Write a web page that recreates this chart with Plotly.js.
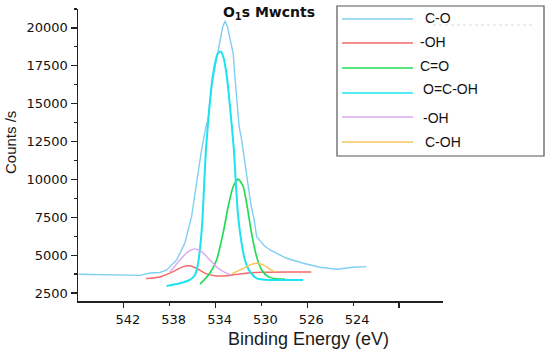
<!DOCTYPE html>
<html>
<head>
<meta charset="utf-8">
<script src="https://cdn.plot.ly/plotly-3.0.1.min.js"></script>
<style>html,body{margin:0;padding:0;background:#fff;}#chart{width:550px;height:354px;}</style>
</head>
<body>
<div id="chart"></div>
<script>
// ---- data (binding energy on the chart's nominal axis, counts/s) ----
const seriesNames = ["C-O", "-OH", "C=O", "O=C-OH", "-OH", "C-OH"];

const envX = [545.95, 544.5, 543.0, 542.0, 540.6, 539.7, 538.86, 538.25, 537.4, 536.68, 536.09, 535.66, 535.22, 534.85, 534.67, 534.55, 534.30, 533.99, 533.69, 533.38, 533.17, 532.95, 532.77, 532.55, 532.46, 532.34, 532.15, 531.94, 531.72, 531.48, 531.23, 530.93, 530.62, 530.42, 529.79, 529.26, 527.80, 526.35, 524.90, 523.44, 521.99, 520.85];
const envY = [3740, 3720, 3700, 3680, 3660, 3820, 3850, 4020, 4680, 5790, 7540, 9750, 11950, 13450, 13900, 14780, 16320, 17640, 18960, 20060, 20450, 20060, 19400, 18740, 18300, 16980, 15220, 13460, 12580, 11260, 9940, 8400, 7300, 6220, 5650, 5340, 4790, 4460, 4200, 4070, 4200, 4240];

const ohX = [540.07, 538.86, 537.70, 536.83, 536.24, 535.66, 534.78, 533.91, 533.04, 531.88, 530.13, 527.23, 525.65];
const ohY = [3450, 3560, 3910, 4240, 4300, 4130, 3760, 3620, 3640, 3760, 3870, 3890, 3890];

const coX = [535.35, 534.50, 533.91, 533.34, 532.90, 532.46, 532.03, 531.59, 531.24, 530.86, 530.42, 529.98, 529.41, 528.68, 527.95];
const coY = [3080, 3800, 4680, 6450, 8200, 9530, 10020, 9530, 8200, 6450, 4900, 4020, 3580, 3430, 3410];

const ocohX = [538.27, 537.11, 536.24, 535.80, 535.52, 535.31, 535.13, 534.99, 534.84, 534.61, 534.33, 534.02, 533.81, 533.55, 533.32, 533.01, 532.71, 532.40, 532.23, 532.03, 531.73, 531.44, 531.0, 530.42, 529.26, 526.35];
const ocohY = [2960, 3140, 3360, 3690, 4460, 5790, 7540, 9750, 11950, 14120, 16320, 17750, 18300, 18450, 18080, 16760, 14560, 11950, 9750, 7540, 5790, 4680, 3910, 3470, 3360, 3360];

const oh2X = [537.99, 537.70, 537.11, 536.39, 535.80, 535.22, 534.50, 533.77, 533.04, 532.60];
const oh2Y = [3880, 4130, 4680, 5230, 5410, 5230, 4680, 4130, 3800, 3690];

const cohX = [532.55, 531.59, 531.0, 530.42, 529.84, 529.26, 528.82];
const cohY = [3780, 4130, 4350, 4460, 4350, 4070, 3900];

const xTickVals = [542, 538, 534, 530, 526, 522];
const xTickText = ["542", "538", "534", "530", "526", "524"];
const xMajorVals = [542, 534, 526, 518];

// ---- styling ----
const colors = ["#7fcff2", "#f56a6a", "#22dc55", "#1ee3ee", "#d9a8f0", "#f6c45a"];
const widths = [1.4, 1.5, 1.7, 2.0, 1.4, 1.4];
const xs = [envX, ohX, coX, ocohX, oh2X, cohX];
const ys = [envY, ohY, coY, ocohY, oh2Y, cohY];

const traces = xs.map((x, i) => ({
  type: "scatter", mode: "lines", x: x, y: ys[i], name: seriesNames[i],
  line: {color: colors[i], width: widths[i], shape: i === 0 ? "linear" : "spline", smoothing: 0.6},
  xaxis: i === 5 ? "x2" : "x", yaxis: "y", showlegend: false, hoverinfo: "skip"
}));

// plot area in pixels
const L = 78, R = 443, T = 9, B = 301;
const pxX = p => (p - L) / (R - L);
const pxY = p => (B - p) / (B - T);

const shapes = [];
const annotations = [];

// custom legend box
shapes.push({type: "rect", xref: "paper", yref: "paper", x0: pxX(337), x1: pxX(544), y0: pxY(156), y1: pxY(6),
  line: {color: "#555", width: 1.2}, fillcolor: "rgba(255,255,255,0)"});
// faint dashed artifact next to first entry
shapes.push({type: "line", xref: "paper", yref: "paper", x0: pxX(433), x1: pxX(533), y0: pxY(25), y1: pxY(25),
  line: {color: "#d8d8d8", width: 1, dash: "dot"}});
const rowY = [19, 43, 68, 93, 117, 142];
const textY = [18, 42, 66, 89, 118, 142];
const textX = [423, 418, 418, 421, 421, 423];
seriesNames.forEach((n, i) => {
  shapes.push({type: "line", xref: "paper", yref: "paper", x0: pxX(342), x1: pxX(413), y0: pxY(rowY[i]), y1: pxY(rowY[i]),
    line: {color: colors[i], width: 1.4}});
  annotations.push({xref: "paper", yref: "paper", x: pxX(textX[i]), y: pxY(textY[i]), xanchor: "left", yanchor: "middle",
    text: n, showarrow: false, font: {family: "Liberation Sans, Arial, sans-serif", size: 14, color: "#111"}});
});

// axis titles
annotations.push({xref: "paper", yref: "paper", x: pxX(308), y: pxY(339), xanchor: "center", yanchor: "middle",
  text: "Binding Energy (eV)", showarrow: false, font: {family: "Liberation Sans, Arial, sans-serif", size: 18, color: "#1a1a1a"}});
annotations.push({xref: "paper", yref: "paper", x: pxX(11), y: pxY(143), xanchor: "center", yanchor: "middle", textangle: -90,
  text: "Counts /s", showarrow: false, font: {family: "Liberation Sans, Arial, sans-serif", size: 15, color: "#1a1a1a"}});

const xRange = [546.0, 514.16];
const layout = {
  width: 550, height: 354,
  margin: {l: L, r: 550 - R, t: T, b: 354 - B, pad: 0},
  paper_bgcolor: "#fff", plot_bgcolor: "#fff",
  showlegend: false,
  title: {text: "<b>O<sub>1</sub>s Mwcnts</b>", x: 269 / 550, xanchor: "center", xref: "container",
    y: 1 - 12 / 354, yref: "container", yanchor: "middle",
    font: {family: "DejaVu Sans, sans-serif", size: 14, color: "#111"}},
  xaxis: {range: xRange, autorange: false, tickmode: "array", tickvals: xTickVals, ticktext: xTickText,
    ticks: "outside", ticklen: 3, tickwidth: 1.2, tickcolor: "#222", ticklabelshift: -4, ticklabelstandoff: 3,
    showline: true, linecolor: "#222", linewidth: 1.5, showgrid: false, zeroline: false,
    tickfont: {family: "DejaVu Sans, sans-serif", size: 13, color: "#111"}},
  xaxis2: {range: xRange, autorange: false, overlaying: "x", anchor: "y", side: "bottom", tickmode: "array", tickvals: xMajorVals,
    ticks: "outside", ticklen: 6, tickwidth: 1.2, tickcolor: "#222", showticklabels: false,
    showline: false, showgrid: false, zeroline: false},
  yaxis: {range: [1970, 21250], autorange: false, tick0: 2500, dtick: 2500, tickformat: "d",
    ticks: "outside", ticklen: 6, tickwidth: 1.2, tickcolor: "#222",
    minor: {tick0: 1250, dtick: 1250, ticks: "outside", ticklen: 3, tickwidth: 1.2, tickcolor: "#222"},
    showline: true, linecolor: "#222", linewidth: 1.5, showgrid: false, zeroline: false,
    tickfont: {family: "DejaVu Sans, sans-serif", size: 13, color: "#111"}},
  shapes: shapes,
  annotations: annotations
};

Plotly.newPlot("chart", traces, layout, {displayModeBar: false, staticPlot: true});
</script>
</body>
</html>
